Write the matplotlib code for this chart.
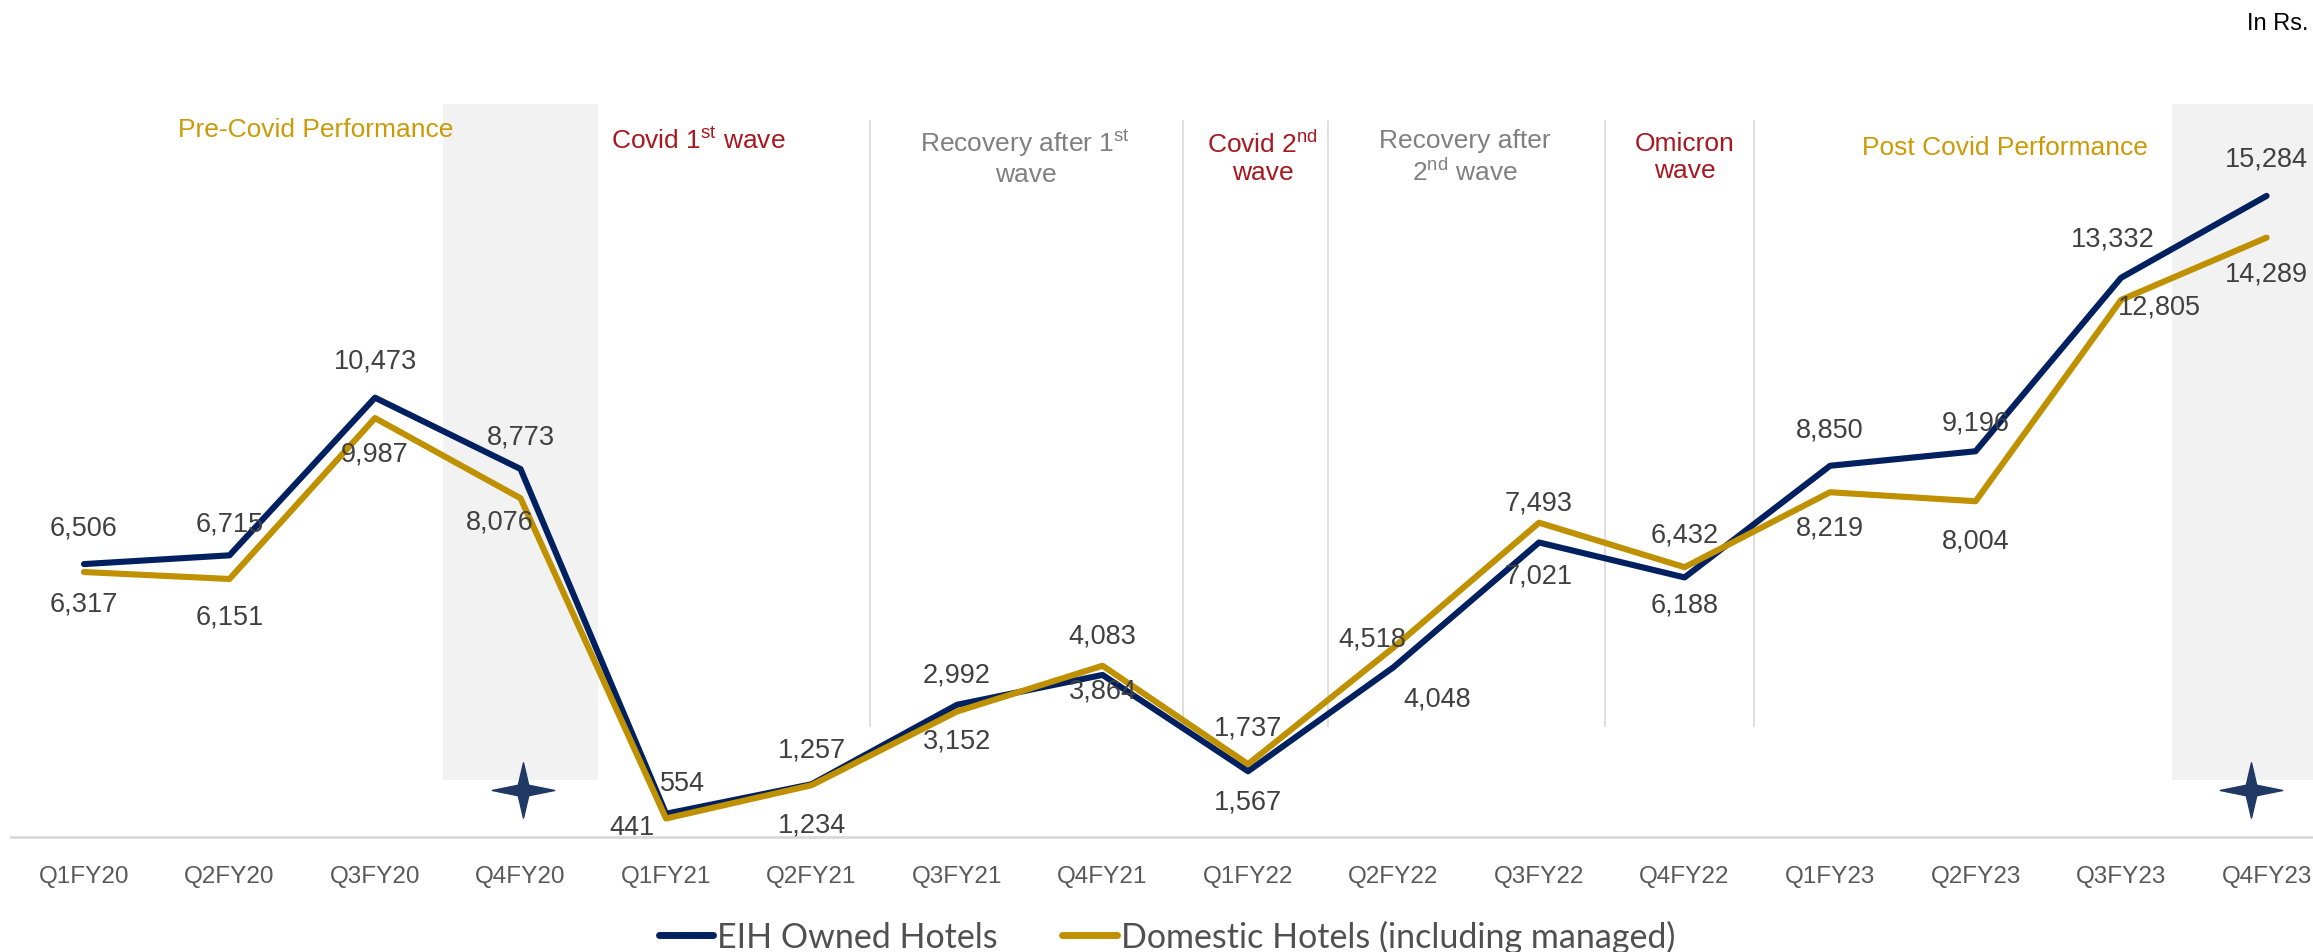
import numpy as np
import matplotlib as mpl
import matplotlib.pyplot as plt
from matplotlib.path import Path
from matplotlib.lines import Line2D

mpl.rcParams['font.family'] = ['Liberation Sans', 'DejaVu Sans']
mpl.rcParams['mathtext.fontset'] = 'custom'
mpl.rcParams['mathtext.rm'] = 'Liberation Sans'

# ---------------- data ----------------
quarters = ['Q1FY20', 'Q2FY20', 'Q3FY20', 'Q4FY20', 'Q1FY21', 'Q2FY21', 'Q3FY21', 'Q4FY21',
            'Q1FY22', 'Q2FY22', 'Q3FY22', 'Q4FY22', 'Q1FY23', 'Q2FY23', 'Q3FY23', 'Q4FY23']
eih_owned = [6506, 6715, 10473, 8773, 554, 1257, 3152, 3864,
             1567, 4048, 7021, 6188, 8850, 9196, 13332, 15284]
domestic = [6317, 6151, 9987, 8076, 441, 1234, 2992, 4083,
            1737, 4518, 7493, 6432, 8219, 8004, 12805, 14289]

# label offsets in pixels (dx, dy)
eih_off = [(0, 37), (0, 32), (0, 37), (0, 32), (16, 31), (0, 35), (0, -36), (0, -16),
           (0, -30), (44, -31), (0, -33), (0, -27), (0, 36), (0, 29), (-8, 39), (0, 37)]
dom_off = [(0, -31), (0, -38), (0, -35), (-21, -23), (-34, -9), (0, -39), (0, 37), (0, 30),
           (0, 37), (-21, 9), (0, 20), (0, 33), (0, -35), (0, -39), (38, -7), (0, -36)]

NAVY = '#002060'
GOLD = '#BF9000'
LABEL = '#404040'
GOLD_TXT = '#CC9A06'
RED = '#A8181E'
GREY = '#808080'

fig = plt.figure(figsize=(23.13, 9.53), dpi=100)
ax = fig.add_axes([0, 0, 1, 1])
ax.set_xlim(-0.5773, 15.319)
ax.set_ylim(-2742, 19978)

x = np.arange(len(quarters))

# shaded quarters + star marks
for lo, hi in [(2.47, 3.53), (14.35, 15.45)]:
    ax.fill_between([lo, hi], 1359, 17475, color='#F2F2F2', lw=0, zorder=0)

r = 0.19
star = Path([(0, 1), (r, r), (1.13, 0), (r, -r), (0, -1), (-r, -r), (-1.13, 0), (-r, r), (0, 1)],
            [Path.MOVETO] + [Path.LINETO] * 7 + [Path.CLOSEPOLY])
ax.plot([3.02, 14.89], [1120, 1120], ls='none', marker=star, markersize=45,
        color='#1F3864', zorder=2)

# phase separators
ax.vlines([5.4, 7.55, 8.55, 10.45, 11.48], 2622, 17093, color='#D9D9D9', lw=1.2, zorder=1)

# lines
ax.plot(x, eih_owned, color=NAVY, lw=4.4, solid_capstyle='round', zorder=3)
ax.plot(x, domestic, color=GOLD, lw=4.4, solid_capstyle='round', zorder=4)

for i, v in enumerate(eih_owned):
    ax.annotate(f'{v:,}', (i, v), xytext=eih_off[i], textcoords='offset pixels',
                ha='center', va='center', fontsize=19.5, color=LABEL, zorder=5)
for i, v in enumerate(domestic):
    ax.annotate(f'{v:,}', (i, v), xytext=dom_off[i], textcoords='offset pixels',
                ha='center', va='center', fontsize=19.5, color=LABEL, zorder=5)

# phase headers
hdr = dict(ha='center', va='center', fontsize=19, linespacing=1.2)
ax.text(1.595, 16879, 'Pre-Covid Performance', color=GOLD_TXT, **hdr)
ax.text(4.22, 16616, r'Covid 1$^{\mathrm{st}}$ wave', color=RED, **hdr)
ax.text(6.47, 16223, 'Recovery after 1$^{\\mathrm{st}}$\nwave', color=GREY, **hdr)
ax.text(8.10, 16223, 'Covid 2$^{\\mathrm{nd}}$\nwave', color=RED, **hdr)
ax.text(9.49, 16223, 'Recovery after\n2$^{\\mathrm{nd}}$ wave', color=GREY, **hdr)
ax.text(11.0, 16223, 'Omicron\nwave', color=RED, **hdr)
ax.text(13.2, 16449, 'Post Covid Performance', color=GOLD_TXT, **hdr)
fig.text(0.998, 1 - 24 / 953, 'In Rs.', ha='right', va='center', fontsize=17, color='black')

# axis
for s in ['left', 'top', 'right']:
    ax.spines[s].set_visible(False)
ax.spines['bottom'].set_position(('data', 0))
ax.spines['bottom'].set_bounds(-0.5, 15.4)
ax.spines['bottom'].set_color('#D9D9D9')
ax.spines['bottom'].set_linewidth(2)
ax.set_xticks(x, quarters)
ax.set_yticks([])
ax.tick_params(axis='x', length=0, pad=20, labelsize=17.5, labelcolor='#595959')

handles = [Line2D([], [], color=NAVY, lw=5, solid_capstyle='round'),
           Line2D([], [], color=GOLD, lw=5, solid_capstyle='round')]
fig.legend(handles, ['EIH Owned Hotels', 'Domestic Hotels (including managed)'],
           loc='center', bbox_to_anchor=(0.5045, 0.0168), ncol=2, frameon=False,
           prop={'family': 'Lato', 'size': 24.5}, labelcolor='#505050',
           handlelength=1.6, handletextpad=0.12, columnspacing=1.9, borderpad=0)

fig.savefig('out.png', dpi=100)
